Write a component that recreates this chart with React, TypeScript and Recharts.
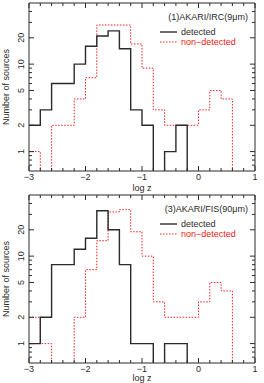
import { Legend, Line, LineChart, ReferenceArea, XAxis, YAxis } from 'recharts';

const FONT = '"Liberation Sans", Arial, Helvetica, sans-serif';
const INK = '#2b2b2b';
const RED = '#f02020';

// bin edges of the log z histograms (width 0.2)
const binEdges = [
  -3, -2.8, -2.6, -2.4, -2.2, -2, -1.8, -1.6, -1.4, -1.2, -1, -0.8, -0.6, -0.4, -0.2, 0, 0.2, 0.4, 0.6,
  0.8, 1,
];
const xLabelTicks = [-3, -2, -1, 0, 1];
const yLabelTicks = [1, 2, 5, 10, 20];
const yMinorTicks = [0.7, 0.8, 0.9, 3, 4, 6, 7, 8, 9, 30, 40];
const yDomain: [number, number] = [0.6, 50];

// counts per bin, one entry per bin starting at -3
const ircDetected = [2, 3, 6, 6, 10, 16, 21, 24, 15, 3, 2, 0, 1, 2, 0, 0, 0, 0, 0, 0];
const ircNonDetected = [1, 0, 2, 2, 4, 7, 28, 28, 28, 17, 9, 3, 2, 2, 2, 3, 5, 4, 0, 0];
const fisDetected = [1, 2, 8, 8, 12, 16, 33, 20, 8, 1, 1, 0, 1, 1, 0, 0, 0, 0, 0, 0];
const fisNonDetected = [2, 1, 0, 0, 2, 7, 15, 32, 34, 19, 10, 3, 2, 2, 2, 3, 5, 4, 0, 0];

// empty bins sit below the log axis and get clipped
const EMPTY = 0.3;

const WIDTH = 264;
const Y_AXIS_W = 29;
const RIGHT = 9;

const toRows = (det: number[], non: number[]) =>
  binEdges.map((x, i) => ({
    x,
    detected: det[i] > 0 ? det[i] : EMPTY,
    nonDetected: non[i] > 0 ? non[i] : EMPTY,
  }));

const fmt = (v: number) => (v < 0 ? `\u2212${Math.abs(v)}` : `${v}`);

interface PanelProps {
  title: string;
  detected: number[];
  nonDetected: number[];
  top: number;
  height: number;
  marginTop: number;
  xAxisHeight: number;
  xTitleOffset: number;
}

function Panel({ title, detected, nonDetected, top, height, marginTop, xAxisHeight, xTitleOffset }: PanelProps) {
  const plotTop = marginTop;
  const plotBottom = height - xAxisHeight;
  const plotLeft = Y_AXIS_W;
  const plotRight = WIDTH - RIGHT;
  const data = toRows(detected, nonDetected);

  const xTick = (p: any) => {
    const v = p.payload.value as number;
    const x = p.x as number;
    const major = xLabelTicks.includes(v);
    const len = major ? 5 : 3;
    return (
      <g>
        <line x1={x} x2={x} y1={plotBottom} y2={plotBottom - len} stroke={INK} />
        <line x1={x} x2={x} y1={plotTop} y2={plotTop + len} stroke={INK} />
        {major && (
          <text x={x} y={plotBottom + 9} textAnchor="middle" fontSize={9} fill={INK} fontFamily={FONT}>
            {fmt(v)}
          </text>
        )}
      </g>
    );
  };

  const yTick = (p: any) => {
    const v = p.payload.value as number;
    const y = p.y as number;
    const major = yLabelTicks.includes(v);
    const len = major ? 5 : 3;
    return (
      <g>
        <line x1={plotLeft} x2={plotLeft + len} y1={y} y2={y} stroke={INK} />
        <line x1={plotRight} x2={plotRight - len} y1={y} y2={y} stroke={INK} />
        {major && (
          <text
            x={21.5}
            y={y}
            transform={`rotate(-90 21.5 ${y})`}
            textAnchor="middle"
            dominantBaseline="central"
            fontSize={9}
            fill={INK}
            fontFamily={FONT}
          >
            {v}
          </text>
        )}
      </g>
    );
  };

  const XTitle = (p: any) => {
    const vb = p.viewBox ?? { x: plotLeft, y: plotBottom, width: plotRight - plotLeft };
    return (
      <text x={vb.x + vb.width / 2} y={plotBottom + xTitleOffset} textAnchor="middle" fontSize={9} fill={INK} fontFamily={FONT}>
        log z
      </text>
    );
  };

  const YTitle = () => {
    const cy = (plotTop + plotBottom) / 2;
    return (
      <text
        x={6}
        y={cy}
        transform={`rotate(-90 6 ${cy})`}
        textAnchor="middle"
        dominantBaseline="central"
        fontSize={9}
        fill={INK}
        fontFamily={FONT}
      >
        Number of sources
      </text>
    );
  };

  const legend = () => (
    <div style={{ fontFamily: FONT, fontSize: 9, lineHeight: '10px', color: INK, position: 'relative', width: 96, height: 40 }}>
      <div style={{ position: 'absolute', right: 0, top: 0, whiteSpace: 'nowrap' }}>{title}</div>
      {[
        { name: 'detected', color: INK, dash: undefined as string | undefined, width: 1.4 },
        { name: 'non\u2212detected', color: RED, dash: '1.5 1.5', width: 1 },
      ].map((it, i) => (
        <div key={it.name} style={{ position: 'absolute', left: 8, top: 15 + i * 10, display: 'flex', alignItems: 'center', whiteSpace: 'nowrap' }}>
          <svg width={17} height={4} style={{ display: 'block' }}>
            <line x1={0} x2={17} y1={2} y2={2} stroke={it.color} strokeWidth={it.width} strokeDasharray={it.dash} />
          </svg>
          <span style={{ marginLeft: 4, color: it.color }}>{it.name}</span>
        </div>
      ))}
    </div>
  );

  return (
    <div style={{ position: 'absolute', left: 0, top, width: WIDTH, height }}>
      <LineChart width={WIDTH} height={height} data={data} margin={{ top: marginTop, right: RIGHT, bottom: 0, left: 0 }}>
        <XAxis
          dataKey="x"
          type="number"
          domain={[-3, 1]}
          ticks={binEdges}
          interval={0}
          height={xAxisHeight}
          axisLine={false}
          tickLine={false}
          tick={xTick}
          label={<XTitle />}
        />
        <YAxis
          type="number"
          scale="log"
          domain={yDomain}
          allowDataOverflow
          ticks={[...yMinorTicks, ...yLabelTicks].sort((a, b) => a - b)}
          interval={0}
          width={Y_AXIS_W}
          axisLine={false}
          tickLine={false}
          tick={yTick}
          label={<YTitle />}
        />
        <Line
          type="stepAfter"
          dataKey="nonDetected"
          name="non-detected"
          stroke={RED}
          strokeWidth={1}
          strokeDasharray="1.5 1.5"
          dot={false}
          activeDot={false}
          isAnimationActive={false}
        />
        <Line
          type="stepAfter"
          dataKey="detected"
          name="detected"
          stroke={INK}
          strokeWidth={1.4}
          dot={false}
          activeDot={false}
          isAnimationActive={false}
        />
        <ReferenceArea x1={-3} x2={1} y1={yDomain[0]} y2={yDomain[1]} fill="none" fillOpacity={0} stroke={INK} strokeWidth={1} ifOverflow="visible" />
        <Legend
          layout="horizontal"
          verticalAlign="middle"
          align="center"
          content={legend}
          wrapperStyle={{ left: 152, top: plotTop + 9, width: 96, height: 40 }}
        />
      </LineChart>
    </div>
  );
}

export default function App() {
  return (
    <div style={{ position: 'relative', width: WIDTH, height: 383, background: '#fff', overflow: 'hidden' }}>
      <style>{'body{margin:0}'}</style>
      <Panel
        title="(1)AKARI/IRC(9μm)"
        detected={ircDetected}
        nonDetected={ircNonDetected}
        top={0}
        height={196}
        marginTop={3}
        xAxisHeight={25}
        xTitleOffset={19.5}
      />
      <Panel
        title="(3)AKARI/FIS(90μm)"
        detected={fisDetected}
        nonDetected={fisNonDetected}
        top={191}
        height={192}
        marginTop={4}
        xAxisHeight={20}
        xTitleOffset={18}
      />
    </div>
  );
}
